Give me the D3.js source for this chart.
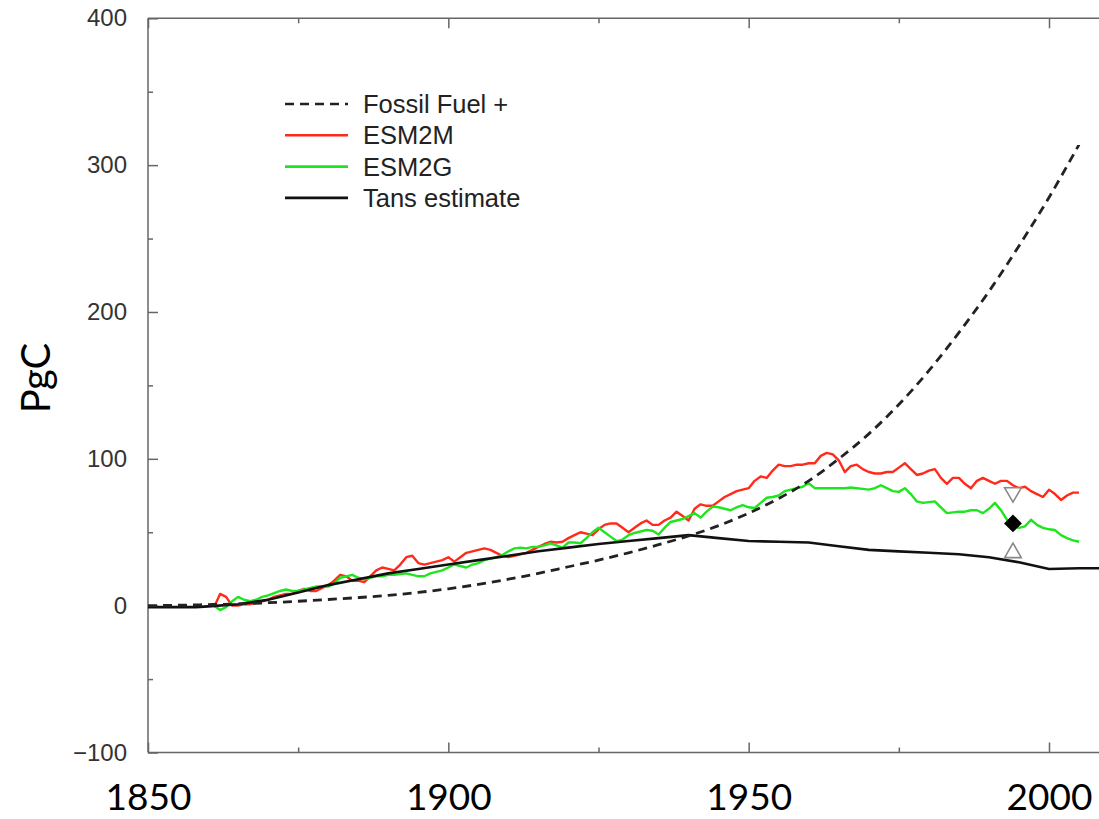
<!DOCTYPE html>
<html>
<head>
<meta charset="utf-8">
<script src="https://cdn.jsdelivr.net/npm/d3@7"></script>
<style>
  html, body { margin: 0; padding: 0; background: #fff; }
  svg { display: block; }
</style>
</head>
<body>
<div id="chart"></div>
<script>
// Fossil fuel + (dashed), read every 5 years
var fossilYears = [1850,1855,1860,1865,1870,1875,1880,1885,1890,1895,1900,1905,1910,1915,1920,1925,1930,1935,1940,1945,1950,1955,1960,1965,1970,1975,1980,1985,1990,1995,2000,2005];
var fossilVals  = [0,0.3,0.7,1.2,2,3,4.2,5.5,7,9,11.5,14.5,18,22,26.5,31,36,41.5,47.5,54.5,63,73,85,100,117,137,160,186,214,245,278,314];

// Tans estimate (solid black)
var tansYears = [1850,1855,1858,1860,1865,1870,1875,1880,1885,1890,1895,1900,1905,1910,1915,1920,1925,1930,1935,1940,1945,1950,1955,1960,1965,1970,1975,1980,1985,1990,1995,2000,2005,2009];
var tansVals  = [-1,-1,-1,-0.5,1,4,9,14,18,22,25,28,31,34,37,39.5,42,44,46,48,46,44,43.5,43,40.5,38,37,36,35,33,29.5,25,25.5,25.5];

// ESM2M / ESM2G annual values, 1861 .. 2005
var modelStart = 1861;
var esm2m = [-1,8,6,0,0,1,1,2,3,4,
  6,7,8,8,10,11.5,10,10,12,14,
  17,21,20,17,17,16,20,24,26,25,
  24,28,33,34,29,28,29,30,31,33,
  30,33,36,37,38,39,38,36,34,33,
  34,35,36,38,40,42,43.5,43,43.5,46,
  48,50,49,48,52,55,56,56,53,50,
  53,56,58,55,55,58,60,64,61,58,
  66,69,68,68,71,74,76,78,79,80,
  85,88,87,92,96,95,95,96,96,97,
  97,102,104,103,99,91,95,96,93,91,
  90,90,91,91,94,97,93,89,90,92,
  93,87,83,87,87,83,80,85,87,85,
  83,85,85,82,80,81,78,76,74,79,
  76,72,75,77,77];
var esm2g = [0,-3,-1,3,6,4,3,4,6,7,
  8.5,10,11,10,10,11,12,13,13,13,
  15,19,20,21,19,18,19,20,20,21,
  21,21.5,22,21,20,20,22,23,24,26,
  28,27,26,28,29,31,32,33,34.5,37,
  39,39.5,39,40,40,41,42.5,41,39.5,43,
  43,42.5,46,50,53,50,47,44,45,48,
  49.5,50.5,51.5,51,48.5,53,57,58,59,61,
  63,60,64,67.5,67,66,65,67,68.5,67,
  66.5,70,73.5,74,75,78,79,80,81,83.5,
  80,80,80,80,80,80,80.5,80,79.5,79,
  80,82,80,78,77.5,80,76,71,70,70.5,
  71,67,63,63.5,64,64,65,65,63,66,
  70,65,58.5,54,53,54,58.5,55,53,52,
  51.5,48,46,44.5,43.5];

// 1994 observational estimate markers
var obsYear = 1994;
var obsBest = 56;
var obsHigh = 77;
var obsLow = 36;

var legendLabels = ["Fossil Fuel +", "ESM2M", "ESM2G", "Tans estimate"];
var legendColors = ["#222", "#ff2a1a", "#1ee61e", "#111"];

var yMajor = [-100, 0, 100, 200, 300, 400];
var yMinor = [-50, 50, 150, 250, 350];
var xMajor = [1850, 1900, 1950, 2000];
var xMinor = [1875, 1925, 1975];

var W = 1099, H = 819;
var plotL = 148, plotT = 18.3, plotB = 752.5;

var svg = d3.select("#chart").append("svg")
    .attr("width", W).attr("height", H);

var x = d3.scaleLinear().domain([1850, 2000]).range([plotL, 1049]);
var y = d3.scaleLinear().domain([-100, 400]).range([plotB, plotT]);

var axisColor = "#666";

function styleAxis(g){
    g.select(".domain").remove();
    g.selectAll(".tick line").attr("stroke", axisColor).attr("stroke-width", 1.5);
}

// frame lines
svg.append("line").attr("x1", plotL).attr("x2", W).attr("y1", plotT).attr("y2", plotT)
    .attr("stroke", axisColor).attr("stroke-width", 1.5);
svg.append("line").attr("x1", plotL).attr("x2", W).attr("y1", plotB).attr("y2", plotB)
    .attr("stroke", axisColor).attr("stroke-width", 1.5);
svg.append("line").attr("x1", plotL).attr("x2", plotL).attr("y1", plotT).attr("y2", plotB)
    .attr("stroke", axisColor).attr("stroke-width", 1.5);

// y axis
svg.append("g").attr("transform", "translate(" + plotL + ",0)")
    .call(d3.axisLeft(y).tickValues(yMajor).tickSize(-10).tickPadding(21)
        .tickFormat(function(d){ return d < 0 ? "\u2212" + Math.abs(d) : d; }))
    .call(styleAxis)
    .selectAll("text")
    .style("font-family", "Liberation Sans, Arial, sans-serif")
    .style("font-size", "24px")
    .attr("fill", "#333");
svg.append("g").attr("transform", "translate(" + plotL + ",0)")
    .call(d3.axisLeft(y).tickValues(yMinor).tickSize(-5).tickFormat(""))
    .call(styleAxis);

// bottom axis
svg.append("g").attr("transform", "translate(0," + plotB + ")")
    .call(d3.axisBottom(x).tickValues(xMajor).tickSize(-10).tickPadding(31).tickFormat(d3.format("d")))
    .call(styleAxis)
    .selectAll("text")
    .style("font-family", "Lato, 'Open Sans', sans-serif")
    .style("font-size", "37px")
    .attr("fill", "#000");
svg.append("g").attr("transform", "translate(0," + plotB + ")")
    .call(d3.axisBottom(x).tickValues(xMinor).tickSize(-5).tickFormat(""))
    .call(styleAxis);

// top axis ticks
svg.append("g").attr("transform", "translate(0," + plotT + ")")
    .call(d3.axisTop(x).tickValues(xMajor).tickSize(-10).tickFormat(""))
    .call(styleAxis);
svg.append("g").attr("transform", "translate(0," + plotT + ")")
    .call(d3.axisTop(x).tickValues(xMinor).tickSize(-5).tickFormat(""))
    .call(styleAxis);

// y label
svg.append("text")
    .attr("transform", "translate(50,378) rotate(-90)")
    .attr("text-anchor", "middle")
    .style("font-family", "Lato, 'Open Sans', sans-serif")
    .style("font-size", "40px")
    .text("PgC");

var line = d3.line()
    .x(function(d){ return x(d[0]); })
    .y(function(d){ return y(d[1]); });

var redData = esm2m.map(function(v, i){ return [modelStart + i, v]; });
var greenData = esm2g.map(function(v, i){ return [modelStart + i, v]; });
var tansData = tansVals.map(function(v, i){ return [tansYears[i], v]; });
var fossilData = fossilVals.map(function(v, i){ return [fossilYears[i], v]; });

svg.append("path").datum(redData).attr("d", line)
    .attr("fill", "none").attr("stroke", legendColors[1]).attr("stroke-width", 2.4)
    .attr("stroke-linejoin", "round");
svg.append("path").datum(greenData).attr("d", line)
    .attr("fill", "none").attr("stroke", legendColors[2]).attr("stroke-width", 2.4)
    .attr("stroke-linejoin", "round");
svg.append("path").datum(tansData).attr("d", line)
    .attr("fill", "none").attr("stroke", legendColors[3]).attr("stroke-width", 2.6);
svg.append("path").datum(fossilData).attr("d", d3.line().curve(d3.curveMonotoneX)
        .x(function(d){ return x(d[0]); }).y(function(d){ return y(d[1]); }))
    .attr("fill", "none").attr("stroke", legendColors[0]).attr("stroke-width", 2.8)
    .attr("stroke-dasharray", "9,6");

// markers
var tri = d3.symbol().type(d3.symbolTriangle).size(120);
svg.append("path").attr("d", tri())
    .attr("transform", "translate(" + x(obsYear) + "," + y(obsHigh) + ") rotate(180)")
    .attr("fill", "#fff").attr("stroke", "#888").attr("stroke-width", 1.6);
svg.append("path").attr("d", tri())
    .attr("transform", "translate(" + x(obsYear) + "," + y(obsLow) + ")")
    .attr("fill", "#fff").attr("stroke", "#888").attr("stroke-width", 1.6);
svg.append("path").attr("d", d3.symbol().type(d3.symbolSquare).size(160)())
    .attr("transform", "translate(" + x(obsYear) + "," + y(obsBest) + ") rotate(45)")
    .attr("fill", "#000");

// legend
var leg = svg.append("g").attr("transform", "translate(285,104)");
var rows = leg.selectAll("g").data(legendLabels).enter().append("g")
    .attr("transform", function(d, i){ return "translate(0," + (i * 31.3) + ")"; });
rows.append("line").attr("x1", 0).attr("x2", 63).attr("y1", 0).attr("y2", 0)
    .attr("stroke", function(d, i){ return legendColors[i]; })
    .attr("stroke-width", 2.6)
    .attr("stroke-dasharray", function(d, i){ return i === 0 ? "9,6" : null; });
rows.append("text").attr("x", 78).attr("dy", "0.35em")
    .style("font-family", "Liberation Sans, Arial, sans-serif")
    .style("font-size", "25.5px")
    .attr("fill", "#222")
    .text(function(d){ return d; });
</script>
</body>
</html>
